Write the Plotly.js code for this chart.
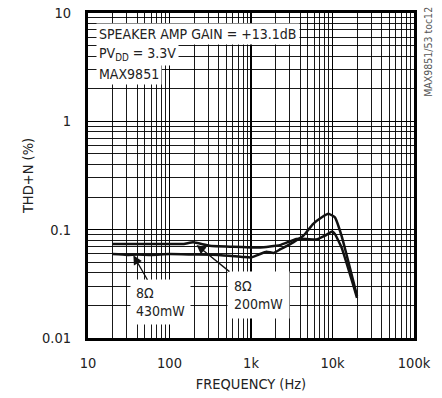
<!DOCTYPE html>
<html>
<head>
<meta charset="utf-8">
<script src="https://cdn.plot.ly/plotly-3.0.1.min.js"></script>
<style>
  html, body { margin: 0; padding: 0; background: #fff; }
  #chart { width: 442px; height: 398px; }
</style>
</head>
<body>
<div id="chart"></div>
<script>
// THD+N vs frequency, speaker amp, PVDD = 3.3V
const freq430 = [20, 30, 40, 60, 100, 200, 400, 800, 1000, 1250, 1550, 1900, 2300, 3300, 4400, 5800, 7400, 8900, 10700, 12900, 20000];
const thd430  = [0.0595, 0.0585, 0.059, 0.0585, 0.0595, 0.059, 0.0585, 0.056, 0.0555, 0.059, 0.0625, 0.061, 0.066, 0.0764, 0.088, 0.113, 0.13, 0.14, 0.13, 0.088, 0.0244];

const freq200 = [20, 50, 100, 150, 195, 310, 600, 1000, 1300, 2260, 3600, 4800, 6300, 8100, 9900, 10700, 12900, 20000];
const thd200  = [0.0737, 0.0737, 0.0737, 0.0737, 0.0764, 0.071, 0.0695, 0.0686, 0.0686, 0.072, 0.082, 0.082, 0.081, 0.088, 0.096, 0.091, 0.0686, 0.0235];

const xTickVals = [10, 100, 1000, 10000, 100000];
const xTickText = ['10', '100', '1k', '10k', '100k'];
const yTickVals = [0.01, 0.1, 1, 10];
const yTickText = ['0.01', '0.1', '1', '10'];

const FONT = "'DejaVu Sans Condensed', 'Liberation Sans', sans-serif";
const INK = '#222';

const curve = (x, y) => ({
  x: x, y: y, type: 'scatter', mode: 'lines',
  line: { color: '#111', width: 2.5, shape: 'spline', smoothing: 0.4 },
  hoverinfo: 'skip'
});

const axisCommon = {
  type: 'log',
  showgrid: true, gridcolor: '#000', gridwidth: 1.6,
  showline: true, linecolor: '#000', linewidth: 3, mirror: true,
  ticks: '', zeroline: false,
  tickmode: 'array',
  tickfont: { family: FONT, size: 14.5, color: INK },
  minor: { dtick: 'D1', showgrid: true, gridcolor: '#000', gridwidth: 0.9, ticks: '' }
};

const textFont = { family: FONT, size: 14, color: INK };

const layout = {
  width: 442, height: 398,
  margin: { l: 88, r: 28, t: 13, b: 60 },
  paper_bgcolor: '#fff', plot_bgcolor: '#fff',
  showlegend: false,
  font: { family: FONT, size: 14.5, color: INK },
  xaxis: Object.assign({}, axisCommon, {
    range: [1, 5],
    tickvals: xTickVals, ticktext: xTickText,
    ticklabelstandoff: 10,
    title: { text: 'FREQUENCY (Hz)', font: { family: FONT, size: 14.5, color: INK }, standoff: 9 }
  }),
  yaxis: Object.assign({}, axisCommon, {
    range: [-2, 1],
    tickvals: yTickVals, ticktext: yTickText,
    ticklabelstandoff: 11,
    title: { text: 'THD+N (%)', font: { family: FONT, size: 14.5, color: INK }, standoff: 5 }
  }),
  annotations: [
    { xref: 'paper', yref: 'paper', x: 0.026, y: 0.935, xanchor: 'left', yanchor: 'middle',
      text: 'SPEAKER AMP GAIN = +13.1dB', showarrow: false, bgcolor: '#fff', borderpad: 2,
      font: textFont },
    { xref: 'paper', yref: 'paper', x: 0.026, y: 0.873, xanchor: 'left', yanchor: 'middle',
      text: 'PV<sub>DD</sub> = 3.3V', showarrow: false, bgcolor: '#fff', borderpad: 2,
      font: textFont },
    { xref: 'paper', yref: 'paper', x: 0.026, y: 0.812, xanchor: 'left', yanchor: 'middle',
      text: 'MAX9851', showarrow: false, bgcolor: '#fff', borderpad: 2,
      font: textFont },
    { xref: 'x', yref: 'y', x: Math.log10(36), y: Math.log10(0.058),
      text: '8Ω<br>430mW', align: 'left', showarrow: true,
      ax: 27, ay: 47, arrowhead: 2, arrowsize: 1.4, arrowwidth: 1.3, arrowcolor: '#111',
      bgcolor: '#fff', borderpad: 5, font: textFont },
    { xref: 'x', yref: 'y', x: Math.log10(215), y: Math.log10(0.072),
      text: '8Ω<br>200mW', align: 'left', showarrow: true,
      ax: 62, ay: 50, arrowhead: 2, arrowsize: 1.4, arrowwidth: 1.3, arrowcolor: '#111',
      bgcolor: '#fff', borderpad: 6, font: textFont },
    { xref: 'paper', yref: 'paper', x: 1.018, y: 0.88, xanchor: 'left', yanchor: 'middle',
      text: 'MAX9851/53 toc12', textangle: -90, showarrow: false,
      font: { family: FONT, size: 10.5, color: '#555' } }
  ]
};

Plotly.newPlot('chart', [curve(freq430, thd430), curve(freq200, thd200)], layout,
  { staticPlot: true, displayModeBar: false });
</script>
</body>
</html>
